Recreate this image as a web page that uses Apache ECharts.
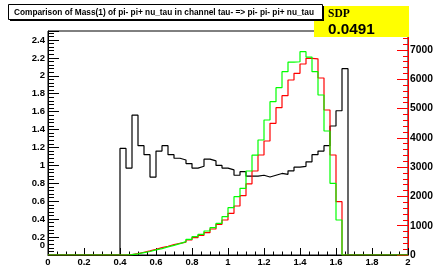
<!DOCTYPE html>
<html>
<head>
<meta charset="utf-8">
<script src="https://cdn.jsdelivr.net/npm/echarts@6/dist/echarts.min.js"></script>
<style>
    html, body {margin: 0; padding: 0; background: #fff;}
    #chart {width: 445px; height: 270px;}
</style>
</head>
<body>
<div id="chart"></div>
<script>
// histogram: 60 bins from 0 to 2
const xMin = 0;
const xMax = 2;
const nBins = 60;

// black, left axis
const blackVals = [
    0, 0, 0, 0, 0, 0, 0, 0, 0, 0, 0, 0,
    1.19, 0.97, 1.56, 1.22, 1.12, 0.87, 1.16, 1.22, 1.12, 1.08,
    1.06, 1.02, 0.97, 0.99, 1.07, 1.05, 1.00, 0.97, 0.95, 0.89,
    0.93, 0.88, 0.88, 0.89, 0.87, 0.89, 0.91, 0.90, 0.94, 0.98,
    0.99, 1.04, 1.12, 1.16, 1.22, 1.44, 1.61, 2.08,
    0, 0, 0, 0, 0, 0, 0, 0, 0, 0
];

// red, right axis
const redVals = [
    0, 0, 0, 0, 0, 0, 0, 0, 0, 0, 0, 0,
    0, 10, 50, 95, 140, 190, 250, 300, 355, 400,
    440, 512, 592, 672, 763, 888, 1047, 1195, 1423, 1673,
    2026, 2430, 2869, 3415, 3893, 4497, 5031, 5441, 5976, 6205,
    6523, 6717, 6700, 6045, 4952, 3415, 1820, 0,
    0, 0, 0, 0, 0, 0, 0, 0, 0, 0
];

// green, right axis
const greenVals = [
    0, 0, 0, 0, 0, 0, 0, 0, 0, 0, 0, 0,
    0, 10, 40, 80, 120, 175, 220, 275, 330, 390,
    455, 535, 626, 706, 820, 934, 1081, 1309, 1616, 1992,
    2276, 2869, 3410, 3927, 4610, 5236, 5715, 6260, 6590, 6600,
    6944, 6760, 6262, 5464, 4235, 2448, 1195, 0,
    0, 0, 0, 0, 0, 0, 0, 0, 0, 0
];

const titleText = 'Comparison of Mass(1) of pi- pi+ nu_tau in channel tau- => pi- pi- pi+ nu_tau';
const statName = 'SDP';
const statValue = '0.0491';

const leftMax = 2.5;
const rightMax = 7650;

function histData(vals) {
    const w = (xMax - xMin) / nBins;
    const d = vals.map((v, i) => [xMin + i * w, v]);
    d.push([xMax, vals[vals.length - 1]]);
    return d;
}

const font = 'Liberation Sans, Arial, Helvetica, sans-serif';
const lab = {fontFamily: font, fontWeight: 'bold', fontSize: 9.5, color: '#000'};

const chart = echarts.init(document.getElementById('chart'));

const option = {
    animation: false,
    grid: {left: 48, right: 37, top: 31, bottom: 15, show: true, borderColor: '#000', borderWidth: 1},
    xAxis: {
        type: 'value', min: xMin, max: xMax, interval: 0.2,
        axisLine: {show: true, lineStyle: {color: '#000', width: 1}},
        axisTick: {show: true, inside: true, length: 7, lineStyle: {color: '#000'}},
        minorTick: {show: true, splitNumber: 4, length: 3.5, lineStyle: {color: '#000'}},
        splitLine: {show: false},
        axisLabel: {...lab, margin: 2, showMinLabel: true, showMaxLabel: true}
    },
    yAxis: [{
        type: 'value', min: 0, max: leftMax, interval: 0.2, position: 'left',
        axisLine: {show: true, lineStyle: {color: '#000', width: 1}},
        axisTick: {show: true, inside: true, length: 11, lineStyle: {color: '#000'}},
        minorTick: {show: true, splitNumber: 5, length: 6, lineStyle: {color: '#000'}},
        splitLine: {show: false},
        // the 0 label is drawn lifted, below
        axisLabel: {...lab, margin: 3, showMinLabel: false, showMaxLabel: false, formatter: v => String(+v.toFixed(1))}
    }, {
        type: 'value', min: 0, max: rightMax, interval: 1000, position: 'right',
        axisLine: {show: true, lineStyle: {color: '#ff0000', width: 1}},
        axisTick: {show: true, inside: true, length: 11, lineStyle: {color: '#ff0000'}},
        minorTick: {show: true, splitNumber: 5, length: 5, lineStyle: {color: '#ff0000'}},
        splitLine: {show: false},
        axisLabel: {...lab, fontSize: 10.3, margin: 2, showMaxLabel: false, formatter: v => String(v)}
    }],
    series: [{
        type: 'line', step: 'end', yAxisIndex: 0, showSymbol: false, silent: true,
        lineStyle: {color: '#000', width: 1.2},
        data: histData(blackVals)
    }, {
        type: 'line', step: 'end', yAxisIndex: 1, showSymbol: false, silent: true,
        lineStyle: {color: '#ff0000', width: 1.2},
        data: histData(redVals)
    }, {
        type: 'line', step: 'end', yAxisIndex: 1, showSymbol: false, silent: true,
        lineStyle: {color: '#00ff00', width: 1.2},
        data: histData(greenVals)
    }],
    graphic: [
        // stat box
        {type: 'rect', z: 100, shape: {x: 314, y: 6, width: 95, height: 31}, style: {fill: '#ffff00'}},
        {type: 'text', z: 102, style: {text: statName, x: 328, y: 14.5, fontFamily: 'Liberation Serif, Times New Roman, serif',
            fontWeight: 'bold', fontSize: 11.5, fill: '#000', align: 'left', verticalAlign: 'middle'}},
        {type: 'text', z: 102, style: {text: statValue, x: 328, y: 29.5, fontFamily: font,
            fontWeight: 'bold', fontSize: 15.3, fill: '#000', align: 'left', verticalAlign: 'middle'}},
        // title box with shadow
        {type: 'rect', z: 103, shape: {x: 10, y: 6, width: 314, height: 15}, style: {fill: '#000'}},
        {type: 'rect', z: 104, shape: {x: 8.5, y: 4.5, width: 314, height: 15}, style: {fill: '#fff', stroke: '#000', lineWidth: 1}},
        {type: 'text', z: 105, style: {text: titleText, x: 164, y: 12.5, fontFamily: font,
            fontWeight: 'bold', fontSize: 8.3, fill: '#000', align: 'center', verticalAlign: 'middle'}}
    ]
};

chart.setOption(option);

// left-axis 0 label, lifted off the x axis like ROOT does
const zeroPos = chart.convertToPixel({xAxisIndex: 0, yAxisIndex: 0}, [xMin, 0]);
chart.setOption({
    graphic: [{
        id: 'zero', type: 'text', z: 50,
        style: {text: '0', x: zeroPos[0] - 3, y: zeroPos[1] - 9.5, fontFamily: font, fontWeight: 'bold',
            fontSize: 9.5, fill: '#000', align: 'right', verticalAlign: 'middle'}
    }]
});
</script>
</body>
</html>
